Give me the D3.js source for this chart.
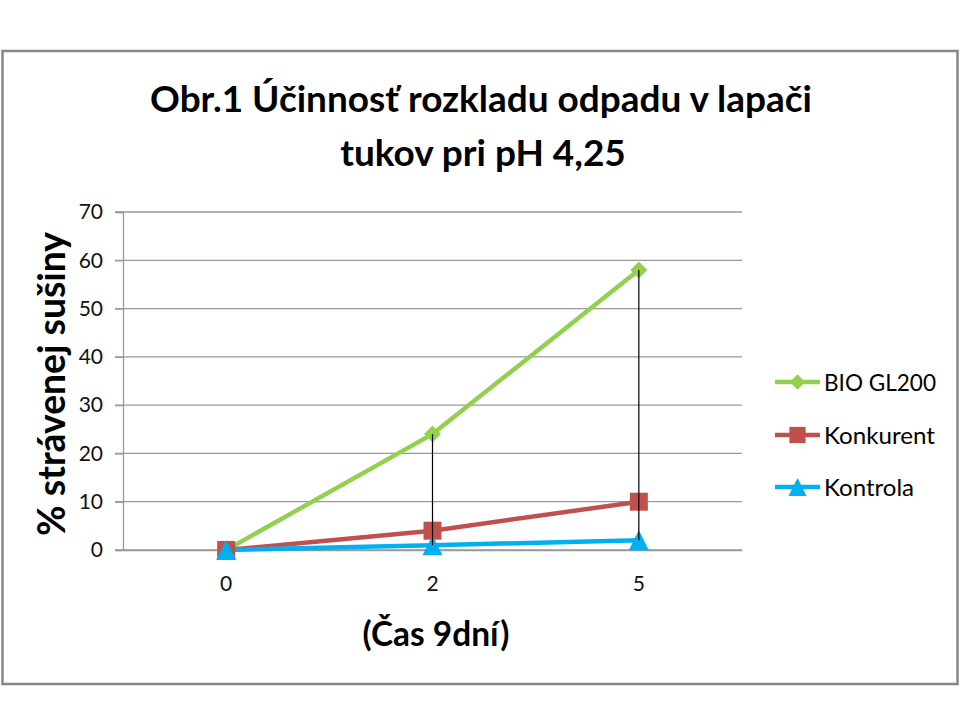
<!DOCTYPE html>
<html>
<head>
<meta charset="utf-8">
<script src="https://cdn.jsdelivr.net/npm/d3@7"></script>
<style>
  html, body { margin: 0; padding: 0; background: #fff; }
  svg { display: block; }
  text { font-family: Lato, "Open Sans", sans-serif; }
</style>
</head>
<body>
<script>
// ---- data ----
const categories = ["0", "2", "5"];
const bioValues = [0, 24, 58];
const konkurentValues = [0, 4, 10];
const kontrolaValues = [0, 1, 2];
const seriesNames = ["BIO GL200", "Konkurent", "Kontrola"];
const yTicks = [0, 10, 20, 30, 40, 50, 60, 70];
const titleLines = ["Obr.1 Účinnosť rozkladu odpadu v lapači", "tukov pri pH 4,25"];
const yTitle = "% strávenej sušiny";
const xTitle = "(Čas 9dní)";

// ---- layout ----
const W = 960, H = 720;
const plot = { left: 123, right: 742, top: 212, bottom: 550 };
const colors = ["#92d050", "#c0504d", "#00b0f0"];
const shapes = ["diamond", "square", "triangle"];
const legendWidths = [112, 111, 90];

const svg = d3.select("body").append("svg").attr("width", W).attr("height", H);

function fitWidth(sel, target) {
  const base = parseFloat(sel.style("font-size"));
  const w = sel.node().getComputedTextLength();
  sel.style("font-size", (base * target / w) + "px");
}

function markerPath(shape, cx, cy, k) {
  k = k || 1;
  const p = d3.path();
  if (shape === "diamond") {
    const r = 8.5 * k;
    p.moveTo(cx, cy - r); p.lineTo(cx + r, cy); p.lineTo(cx, cy + r); p.lineTo(cx - r, cy); p.closePath();
  } else if (shape === "square") {
    const r = 9 * k;
    p.rect(cx - r, cy - r, 2 * r, 2 * r);
  } else {
    const r = 10 * k;
    p.moveTo(cx, cy - r); p.lineTo(cx + r, cy + r); p.lineTo(cx - r, cy + r); p.closePath();
  }
  return p.toString();
}

// border
svg.append("rect").attr("x", 2.5).attr("y", 51).attr("width", 955).attr("height", 633)
  .attr("fill", "#fff").attr("stroke", "#878787").attr("stroke-width", 2.5);

// scales
const x = d3.scaleBand().domain(categories).range([plot.left, plot.right]);
const xc = c => x(c) + x.bandwidth() / 2;
const y = d3.scaleLinear().domain([0, 70]).range([plot.bottom, plot.top]);

// gridlines
svg.append("g").selectAll("line").data(yTicks).join("line")
  .attr("x1", plot.left - 8).attr("x2", plot.right)
  .attr("y1", d => y(d)).attr("y2", d => y(d))
  .attr("stroke", "#999").attr("stroke-width", 1.3);

// y axis
const yAxis = svg.append("g").attr("transform", `translate(${plot.left},0)`)
  .call(d3.axisLeft(y).tickValues(yTicks).tickSize(8).tickPadding(12));
yAxis.select(".domain").attr("stroke", "#999").attr("stroke-width", 1.3);
yAxis.selectAll(".tick line").attr("stroke", "#999").attr("stroke-width", 1.3);
yAxis.selectAll("text").style("font-family", "Lato").style("font-size", "21px").attr("fill", "#111");

// x axis
const xAxis = svg.append("g").attr("transform", `translate(0,${plot.bottom})`)
  .call(d3.axisBottom(x).tickSize(0).tickPadding(26));
xAxis.select(".domain").attr("stroke", "#999").attr("stroke-width", 1.3);
xAxis.selectAll("text").style("font-family", "Lato").style("font-size", "21px").attr("fill", "#111");

// series
const series = [bioValues, konkurentValues, kontrolaValues];
const line = d3.line().x((d, i) => xc(categories[i])).y(d => y(d));
series.forEach((vals, si) => {
  svg.append("path").datum(vals).attr("d", line)
    .attr("fill", "none").attr("stroke", colors[si]).attr("stroke-width", 4.5)
    .attr("stroke-linejoin", "round");
});
series.forEach((vals, si) => {
  svg.append("g").selectAll("path").data(vals).join("path")
    .attr("d", (d, i) => markerPath(shapes[si], xc(categories[i]), y(d)))
    .attr("fill", colors[si]);
});

// high-low lines
svg.append("g").selectAll("line").data(categories).join("line")
  .attr("x1", c => xc(c)).attr("x2", c => xc(c))
  .attr("y1", (c, i) => y(d3.max(series, s => s[i])))
  .attr("y2", (c, i) => y(d3.min(series, s => s[i])))
  .attr("stroke", "#000").attr("stroke-width", 1.2);

// title
const t1 = svg.append("text").attr("x", 481).attr("y", 112).attr("text-anchor", "middle")
  .style("font-weight", "bold").style("font-size", "36px").text(titleLines[0]);
fitWidth(t1, 662);
svg.append("text").attr("x", 483).attr("y", 166).attr("text-anchor", "middle")
  .style("font-weight", "bold").style("font-size", t1.style("font-size")).text(titleLines[1]);

// axis titles
const yt = svg.append("text").attr("transform", "translate(65,384) rotate(-90)")
  .attr("text-anchor", "middle").style("font-weight", "bold").style("font-size", "28px").text(yTitle);
fitWidth(yt, 304);
const xt = svg.append("text").attr("x", 436).attr("y", 646).attr("text-anchor", "middle")
  .style("font-weight", "bold").style("font-size", "28px").text(xTitle);
fitWidth(xt, 147);

// legend
const legendY = [382, 435, 487];
const lg = svg.append("g");
seriesNames.forEach((name, si) => {
  const ly = legendY[si];
  lg.append("line").attr("x1", 775).attr("x2", 820).attr("y1", ly).attr("y2", ly)
    .attr("stroke", colors[si]).attr("stroke-width", 4.5);
  lg.append("path").attr("d", markerPath(shapes[si], 797.5, ly, 0.9)).attr("fill", colors[si]);
  lg.append("text").attr("x", 824).attr("y", ly).attr("dy", "0.36em")
    .style("font-size", "24px").attr("fill", "#000")
    .attr("textLength", legendWidths[si]).attr("lengthAdjust", "spacingAndGlyphs")
    .text(name);
});
</script>
</body>
</html>
